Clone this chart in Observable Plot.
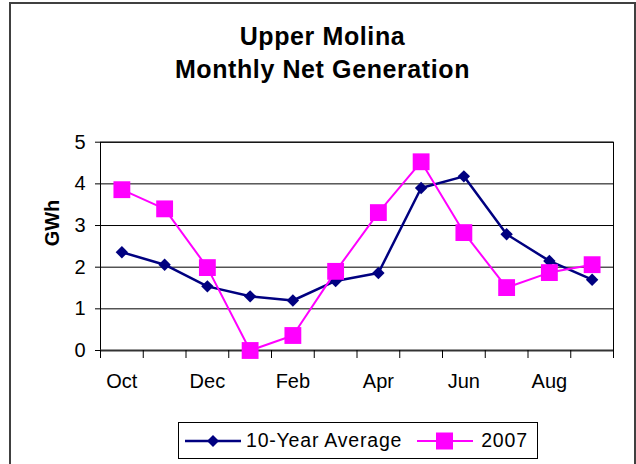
<!DOCTYPE html>
<html>
<head>
<meta charset="utf-8">
<script src="https://cdn.jsdelivr.net/npm/d3@7"></script>
<script src="https://cdn.jsdelivr.net/npm/@observablehq/plot@0.6"></script>
<style>
  html, body { margin: 0; padding: 0; background: #fff; overflow: hidden; }
  #wrap { position: relative; width: 636px; height: 464px; font-family: "Liberation Sans", Arial, sans-serif; color: #000; }
  #border { position: absolute; left: 9px; top: 2px; width: 627px; height: 480px; box-sizing: border-box; border: 2px solid #404040; }
  #title { position: absolute; left: 9px; top: 20px; width: 627px; text-align: center; font-weight: bold; font-size: 25px; line-height: 33px; letter-spacing: 0.6px; }
  #chart { position: absolute; left: 0; top: 110px; }
  #legend { position: absolute; left: 178px; top: 422px; width: 360px; height: 37px; box-sizing: border-box; border: 1px solid #000; display: flex; align-items: center; font-size: 19.5px; letter-spacing: 0.8px; background: #fff; }
  #legend .item { display: flex; align-items: center; }
  #legend svg { display: block; }
</style>
</head>
<body>
<div id="wrap">
  <div id="border"></div>
  <div id="title">Upper Molina<br>Monthly Net Generation</div>
  <div id="chart"></div>
  <div id="legend"></div>
</div>
<script>
const months = ["Oct","Nov","Dec","Jan","Feb","Mar","Apr","May","Jun","Jul","Aug","Sep"];
const avg10 = [2.36, 2.06, 1.54, 1.30, 1.20, 1.67, 1.86, 3.90, 4.18, 2.79, 2.15, 1.70];
const y2007 = [3.86, 3.40, 1.99, 0.00, 0.36, 1.90, 3.31, 4.53, 2.83, 1.51, 1.87, 2.06];
const xTickLabels = ["Oct","Dec","Feb","Apr","Jun","Aug"];
const yTicks = [0, 1, 2, 3, 4, 5];
const seriesNames = ["10-Year Average", "2007"];
const seriesColors = ["#000080", "#FF00FF"];

const rows = months.map((m, i) => ({i, month: m, avg: avg10[i], y07: y2007[i]}));
const labelIdx = xTickLabels.map(m => months.indexOf(m));
const boundaries = d3.range(months.length + 1).map(k => k - 0.5);

const chart = Plot.plot({
  width: 636,
  height: 300,
  marginLeft: 100,
  marginRight: 23,
  marginTop: 31.7,
  marginBottom: 60,
  style: {fontFamily: '"Liberation Sans", Arial, sans-serif', fontSize: "20px", color: "#000", background: "transparent", overflow: "visible"},
  x: {domain: [-0.5, months.length - 0.5]},
  y: {domain: [0, 5]},
  marks: [
    Plot.ruleY(yTicks.filter(d => d > 0), {stroke: "#000", strokeWidth: 1}),
    Plot.frame({stroke: "#000", strokeWidth: 1}),
    Plot.ruleY([0], {stroke: "#333", strokeWidth: 2}),
    Plot.axisY({ticks: yTicks, tickSize: 5, tickPadding: 10, tickFormat: d => String(d), label: null, fontSize: 20}),
    Plot.axisX({ticks: boundaries, tickSize: 8, tickFormat: () => "", label: null}),
    Plot.axisX({ticks: labelIdx, tickSize: 0, tickPadding: 23, tickFormat: i => months[i], label: null, fontSize: 20}),
    Plot.line(rows, {x: "i", y: "avg", stroke: seriesColors[0], strokeWidth: 2.5}),
    Plot.dot(rows, {x: "i", y: "avg", symbol: "diamond2", r: 5.6, fill: seriesColors[0], stroke: "none"}),
    Plot.line(rows, {x: "i", y: "y07", stroke: seriesColors[1], strokeWidth: 2}),
    Plot.dot(rows, {x: "i", y: "y07", symbol: "square", r: 9.5, fill: seriesColors[1], stroke: "none"}),
    Plot.text(["GWh"], {text: d => d, frameAnchor: "left", dx: -48, rotate: -90, fontWeight: "bold", fontSize: 20})
  ]
});
document.getElementById("chart").appendChild(chart);

// Legend
const legend = document.getElementById("legend");
const swatch = (color, kind) => {
  const ns = "http://www.w3.org/2000/svg";
  const svg = document.createElementNS(ns, "svg");
  svg.setAttribute("width", 56);
  svg.setAttribute("height", 20);
  const line = document.createElementNS(ns, "line");
  line.setAttribute("x1", 0); line.setAttribute("x2", 56);
  line.setAttribute("y1", 10); line.setAttribute("y2", 10);
  line.setAttribute("stroke", color); line.setAttribute("stroke-width", kind === "diamond" ? 2.5 : 2);
  svg.appendChild(line);
  if (kind === "diamond") {
    const p = document.createElementNS(ns, "path");
    p.setAttribute("d", "M28,4L34,10L28,16L22,10Z");
    p.setAttribute("fill", color);
    svg.appendChild(p);
  } else {
    const r = document.createElementNS(ns, "rect");
    r.setAttribute("x", 19); r.setAttribute("y", 1.5);
    r.setAttribute("width", 17); r.setAttribute("height", 17);
    r.setAttribute("fill", color);
    svg.appendChild(r);
  }
  return svg;
};
seriesNames.forEach((name, k) => {
  const item = document.createElement("div");
  item.className = "item";
  item.style.marginLeft = k === 0 ? "6px" : "15px";
  item.appendChild(swatch(seriesColors[k], k === 0 ? "diamond" : "square"));
  const t = document.createElement("span");
  t.textContent = name;
  t.style.marginLeft = k === 0 ? "5px" : "8px";
  item.appendChild(t);
  legend.appendChild(item);
});
</script>
</body>
</html>
